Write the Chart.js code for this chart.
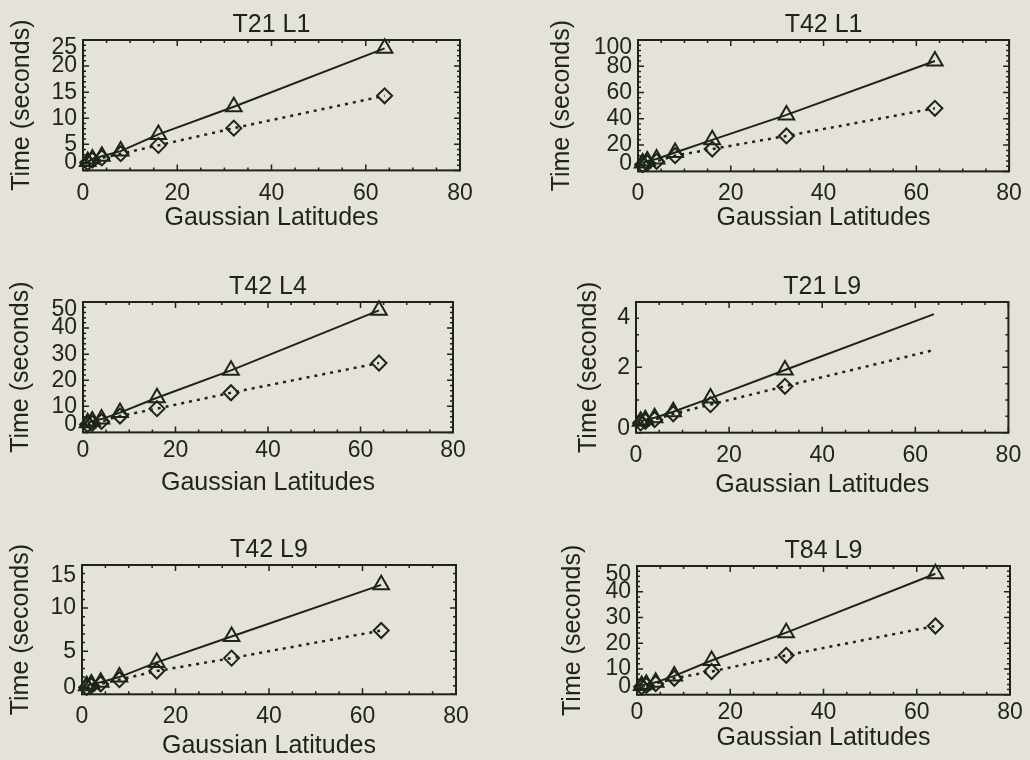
<!DOCTYPE html>
<html>
<head>
<meta charset="utf-8">
<script src="https://cdn.jsdelivr.net/npm/chart.js@4.4.1/dist/chart.umd.min.js"></script>
<style>
  html, body { margin: 0; padding: 0; }
  body { width: 1030px; height: 760px; background: #e4e2da; position: relative; overflow: hidden; }
  canvas { position: absolute; }
</style>
</head>
<body>
<script>
const INK = '#1d2419';
const FONT = "'Liberation Sans', Arial, sans-serif";

// x values shared by every panel
const lats = [1, 2, 4, 8, 16, 32, 64];

// timings: triangles (solid) and diamonds (dotted)
const t21l1Tri = [1.7, 2.2, 2.7, 3.7, 6.9, 12.2, 23.4];
const t21l1Dia = [1.5, 2.0, 2.4, 3.2, 4.8, 8.1, 14.3];
const t42l1Tri = [6.4, 8.0, 9.4, 14.4, 24, 43, 84];
const t42l1Dia = [5.1, 6.4, 7.6, 12, 17, 27, 48];
const t42l4Tri = [3.7, 4.4, 5.1, 7.6, 13.3, 23.8, 46.8];
const t42l4Dia = [3.0, 3.5, 4.2, 6.3, 9.1, 15.2, 26.6];
const t21l9Tri = [0.35, 0.4, 0.46, 0.64, 1.06, 1.92, 3.63];
const t21l9Dia = [0.3, 0.35, 0.4, 0.58, 0.86, 1.42, 2.53];
const t42l9Tri = [1.0, 1.2, 1.4, 2.0, 3.7, 6.7, 12.7];
const t42l9Dia = [0.8, 1.0, 1.2, 1.7, 2.7, 4.2, 7.4];
const t84l9Tri = [3.6, 4.1, 4.8, 7.3, 13.3, 24.1, 47];
const t84l9Dia = [3.1, 3.6, 4.3, 6.4, 9.0, 15.3, 26.7];

const titles = ['T21 L1', 'T42 L1', 'T42 L4', 'T21 L9', 'T42 L9', 'T84 L9'];
const triSeries = [t21l1Tri, t42l1Tri, t42l4Tri, t21l9Tri, t42l9Tri, t84l9Tri];
const diaSeries = [t21l1Dia, t42l1Dia, t42l4Dia, t21l9Dia, t42l9Dia, t84l9Dia];
const lastMarker = [true, true, true, false, true, true];

// axes
const xTicks = [0, 20, 40, 60, 80];
const xMinor = 5;
const yMax = [25, 100, 50, 4, 15, 50];
const yStep = [5, 20, 10, 2, 5, 10];
const yMinor = [1, 4, 2, 0.5, 1, 2];

// where each plot frame sits on the page, and label offsets
const frames = [
  { left: 83, top: 40, right: 460, bottom: 171, cx: 0, cw: 530, yTitle: 22, xLab: 22.6, xTitle: 47.6, edge: [8, 8] },
  { left: 638, top: 40, right: 1015, bottom: 172, cx: 540, cw: 490, yTitle: 562, xLab: 21.6, xTitle: 46.6, edge: [8, 8] },
  { left: 83, top: 302, right: 453, bottom: 433, cx: 0, cw: 530, yTitle: 21, xLab: 18, xTitle: 50.6, edge: [8, 8] },
  { left: 636, top: 302, right: 1013, bottom: 433, cx: 540, cw: 490, yTitle: 589, xLab: 22.3, xTitle: 52.3, edge: [16, 4] },
  { left: 82, top: 565, right: 456, bottom: 695, cx: 0, cw: 530, yTitle: 21, xLab: 21.7, xTitle: 51.7, edge: [11, 7] },
  { left: 637, top: 566, right: 1010, bottom: 695, cx: 540, cw: 490, yTitle: 573, xLab: 17.7, xTitle: 43.3, edge: [9, 8] }
];

const TITLE_H = 40;
const TICK_PAD = 6;
const tickFont = { family: FONT, size: 23 };
const labelFont = { family: FONT, size: 25 };

// IDL-style box: frame, inward major/minor ticks, end labels pulled inside
const idlAxes = {
  id: 'idlAxes',
  afterDraw(chart, args, opts) {
    const { ctx, chartArea: a } = chart;
    const x = chart.scales.x, y = chart.scales.y;
    ctx.save();
    ctx.strokeStyle = INK;
    ctx.lineWidth = 2;
    ctx.strokeRect(a.left, a.top, a.right - a.left, a.bottom - a.top);

    ctx.lineWidth = 1.5;
    ctx.beginPath();
    let n = Math.round((x.max - x.min) / opts.xMinor);
    for (let i = 0; i <= n; i++) {
      const v = x.min + i * opts.xMinor;
      const px = x.getPixelForValue(v);
      const len = Math.abs(v / opts.xStep - Math.round(v / opts.xStep)) < 1e-6 ? 6 : 3;
      ctx.moveTo(px, a.bottom); ctx.lineTo(px, a.bottom - len);
      ctx.moveTo(px, a.top); ctx.lineTo(px, a.top + len);
    }
    n = Math.round((y.max - y.min) / opts.yMinor);
    for (let i = 0; i <= n; i++) {
      const v = y.min + i * opts.yMinor;
      const py = y.getPixelForValue(v);
      const len = Math.abs(v / opts.yStep - Math.round(v / opts.yStep)) < 1e-6 ? 6 : 3;
      ctx.moveTo(a.left, py); ctx.lineTo(a.left + len, py);
      ctx.moveTo(a.right, py); ctx.lineTo(a.right - len, py);
    }
    ctx.stroke();

    ctx.fillStyle = INK;
    ctx.font = tickFont.size + 'px ' + FONT;
    ctx.textAlign = 'right';
    ctx.textBaseline = 'middle';
    const lx = a.left - TICK_PAD;
    ctx.fillText(String(y.max), lx, y.getPixelForValue(y.max) + opts.edge[0]);
    ctx.fillText(String(y.min), lx, y.getPixelForValue(y.min) - opts.edge[1]);
    ctx.restore();
  }
};

titles.forEach((title, i) => {
  const f = frames[i];
  const xAxisH = f.xTitle + 17;
  const canvas = document.createElement('canvas');
  canvas.width = f.cw;
  canvas.height = TITLE_H + (f.bottom - f.top) + xAxisH;
  canvas.style.left = f.cx + 'px';
  canvas.style.top = (f.top - TITLE_H) + 'px';
  document.body.appendChild(canvas);

  const top = yMax[i];
  new Chart(canvas, {
    type: 'line',
    data: {
      datasets: [
        {
          data: lats.map((v, k) => ({ x: v, y: triSeries[i][k] })),
          borderColor: INK,
          borderWidth: 2,
          pointStyle: 'triangle',
          pointRadius: c => (!lastMarker[i] && c.dataIndex === lats.length - 1) ? 0 : 9,
          pointBorderWidth: 2,
          pointBorderColor: INK,
          pointBackgroundColor: 'rgba(0,0,0,0)',
          clip: false
        },
        {
          data: lats.map((v, k) => ({ x: v, y: diaSeries[i][k] })),
          borderColor: INK,
          borderWidth: 2.5,
          borderDash: [3, 5],
          pointStyle: 'rectRot',
          pointRadius: c => (!lastMarker[i] && c.dataIndex === lats.length - 1) ? 0 : 7.5,
          pointBorderWidth: 2,
          pointBorderColor: INK,
          pointBackgroundColor: 'rgba(0,0,0,0)',
          clip: false
        }
      ]
    },
    options: {
      responsive: false,
      animation: false,
      events: [],
      layout: { padding: { left: 0, top: 0, bottom: 0, right: f.cx + f.cw - f.right } },
      plugins: {
        legend: { display: false },
        tooltip: { enabled: false },
        title: {
          display: true,
          text: title,
          color: INK,
          font: { family: FONT, size: 25, weight: 'normal' },
          padding: { top: 10, bottom: 0 },
          fullSize: false
        },
        idlAxes: { xStep: 20, xMinor: xMinor, yStep: yStep[i], yMinor: yMinor[i], edge: f.edge }
      },
      scales: {
        x: {
          type: 'linear',
          min: xTicks[0],
          max: xTicks[xTicks.length - 1],
          afterBuildTicks: s => { s.ticks = xTicks.map(v => ({ value: v })); },
          afterFit: s => { s.height = xAxisH; },
          grid: { display: false, drawTicks: false },
          border: { display: false },
          ticks: { color: INK, font: tickFont, padding: f.xLab - 13.5, maxRotation: 0, autoSkip: false },
          title: {
            display: true,
            text: 'Gaussian Latitudes',
            color: INK,
            font: labelFont,
            padding: { top: 0, bottom: 2 }
          }
        },
        y: {
          min: 0,
          max: top,
          afterFit: s => { s.width = f.left - f.cx; },
          grid: { display: false, drawTicks: false },
          border: { display: false },
          ticks: {
            stepSize: yStep[i],
            autoSkip: false,
            color: c => (c.tick.value === 0 || c.tick.value === top) ? 'rgba(0,0,0,0)' : INK,
            font: tickFont,
            padding: TICK_PAD
          },
          title: {
            display: true,
            text: 'Time (seconds)',
            color: INK,
            font: labelFont,
            padding: { top: f.yTitle - f.cx - 15, bottom: 0 }
          }
        }
      }
    },
    plugins: [idlAxes]
  });
});
</script>
</body>
</html>
